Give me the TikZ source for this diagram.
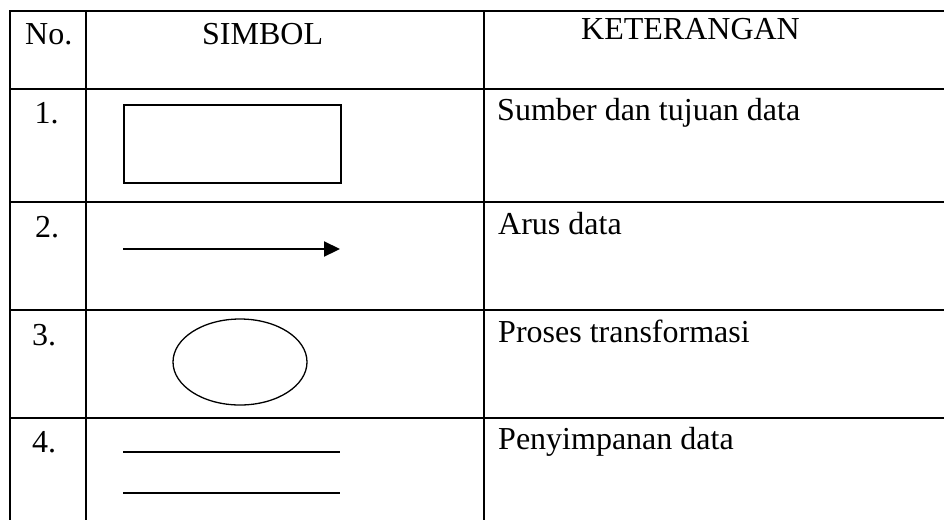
\documentclass[tikz,border=0pt]{standalone}
\usepackage{fontspec}
\setmainfont{Liberation Serif}
\usetikzlibrary{arrows.meta,shapes.geometric}
\begin{document}
\begin{tikzpicture}[x=1pt,y=-1pt,
  grid/.style={line width=2pt},
  txt/.style={anchor=base west, inner sep=0pt, font=\fontsize{32}{38}\selectfont},
  sym/.style={line width=1.6pt},
  thin sym/.style={line width=1.4pt}]
\useasboundingbox (0,0) rectangle (944,520);
% table grid
\draw[grid] (944,11) -- (9.5,11) -- (9.5,520);
\draw[grid] (86,11) -- (86,520);
\draw[grid] (484,11) -- (484,520);
\draw[grid] (9.5,89) -- (944,89);
\draw[grid] (9.5,202) -- (944,202);
\draw[grid] (9.5,310) -- (944,310);
\draw[grid] (9.5,418) -- (944,418);
% header
\node[txt] (hno) at (25,44) {No.};
\node[txt] (hsym) at (202,44) {SIMBOL};
\node[txt] (hket) at (581,39) {KETERANGAN};
% row numbers
\node[txt] (n1) at (34.5,123) {1.};
\node[txt] (n2) at (35,237) {2.};
\node[txt] (n3) at (32,345) {3.};
\node[txt] (n4) at (32,452) {4.};
% descriptions
\node[txt] (d1) at (497,120) {Sumber dan tujuan data};
\node[txt] (d2) at (498,234) {Arus data};
\node[txt] (d3) at (498,342) {Proses transformasi};
\node[txt] (d4) at (498,449) {Penyimpanan data};
% symbols
\node[draw, sym, rectangle, anchor=north west, minimum width=217pt, minimum height=78pt, inner sep=0pt] (src) at (123,104) {};
\coordinate (a1) at (123,249);
\coordinate (a2) at (340,249);
\draw[line width=2.2pt, -{Triangle[length=16pt,width=15pt]}] (a1) -- (a2);
\node[draw, ellipse, line width=1.3pt, minimum width=134pt, minimum height=86pt, inner sep=0pt] (proc) at (240,362) {};
\coordinate (s1a) at (123,452);
\coordinate (s1b) at (340,452);
\coordinate (s2a) at (123,493);
\coordinate (s2b) at (340,493);
\draw[thin sym] (s1a) -- (s1b);
\draw[thin sym] (s2a) -- (s2b);
\end{tikzpicture}
\end{document}
